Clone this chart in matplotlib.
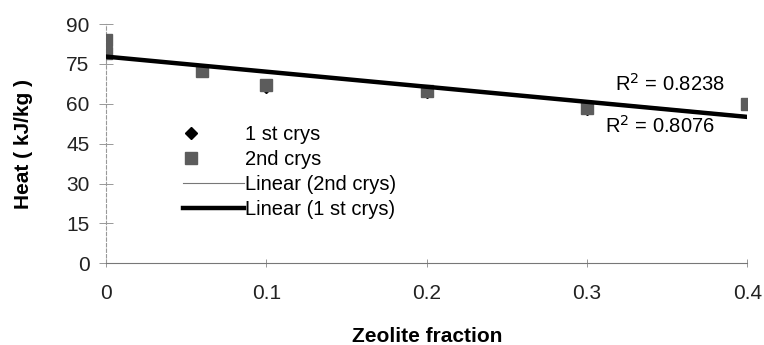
import numpy as np
import matplotlib.pyplot as plt
from matplotlib.legend_handler import HandlerLine2D

plt.rcParams['font.family'] = ['Liberation Sans', 'DejaVu Sans']

# Data (two readings at zero zeolite)
zeolite = [0, 0, 0.06, 0.1, 0.2, 0.3, 0.4]
first_crys = [83.5, 79.5, 72.5, 66.5, 64.5, 58.0, 59.8]
second_crys = [84.0, 79.0, 72.5, 67.0, 65.0, 58.5, 60.0]
r2_labels = ['R$^2$ = 0.8238', 'R$^2$ = 0.8076']
y_ticks = [0, 15, 30, 45, 60, 75, 90]
x_ticks = [0, 0.1, 0.2, 0.3, 0.4]

fig = plt.figure(figsize=(7.64, 3.45), dpi=100)
ax = fig.add_axes([0.139, 0.237, 0.839, 0.693])

x = np.array(zeolite)
xs = np.array([0, 0.4])

# Scatter points (diamonds mostly hidden behind squares)
pts1, = ax.plot(x, first_crys, 'D', color='black', markersize=6, label='1 st crys', zorder=3)
pts2, = ax.plot(x, second_crys, 's', color='#5c5c5c', markersize=9, label='2nd crys', zorder=4)

# Linear trend lines
p2 = np.polyfit(x, second_crys, 1)
p1 = np.polyfit(x, first_crys, 1)
ax.plot(xs, np.polyval(p2, xs), color='#777777', lw=0.8, label='Linear (2nd crys)', zorder=5)
ax.plot(xs, np.polyval(p1, xs), color='black', lw=3.2, label='Linear (1 st crys)', zorder=6)

ax.text(0.3176, 64.9, r2_labels[0], fontsize=14.5)
ax.text(0.311, 49.1, r2_labels[1], fontsize=14.5)

ax.set_xlim(0, 0.4)
ax.set_ylim(0, 90)
ax.set_xticks(x_ticks)
ax.set_xticklabels(['0', '0.1', '0.2', '0.3', '0.4'])
ax.set_yticks(y_ticks)
ax.tick_params(axis='both', labelsize=15, colors='#222222')
ax.tick_params(axis='y', direction='inout', length=10, width=0.6, color='#888888', pad=7)
ax.tick_params(axis='x', direction='inout', length=6, width=0.6, color='#888888', pad=12)

for s in ['top', 'right']:
    ax.spines[s].set_visible(False)
ax.spines['left'].set_linestyle((0, (3, 2)))
ax.spines['left'].set_color('#999999')
ax.spines['left'].set_linewidth(0.8)
ax.spines['bottom'].set_linestyle((0, (6, 1)))
ax.spines['bottom'].set_color('#777777')
ax.spines['bottom'].set_linewidth(0.8)

ax.set_ylabel('Heat ( kJ/kg )', fontsize=15, fontweight='bold')
ax.yaxis.set_label_coords(-0.114, 0.5)
ax.set_xlabel('Zeolite fraction', fontsize=15, fontweight='bold')
ax.xaxis.set_label_coords(0.5, -0.265)

# markers sit toward the left of the legend handle, like the original
shifted = HandlerLine2D(numpoints=1, xpad=-2.2)
ax.legend(loc='upper left', bbox_to_anchor=(0.12, 0.58), frameon=False, fontsize=14.5,
          handlelength=3.0, handletextpad=0.05, labelspacing=0.3, borderpad=0,
          borderaxespad=0, handler_map={pts1: shifted, pts2: shifted})

fig.savefig('out.png', dpi=100)
